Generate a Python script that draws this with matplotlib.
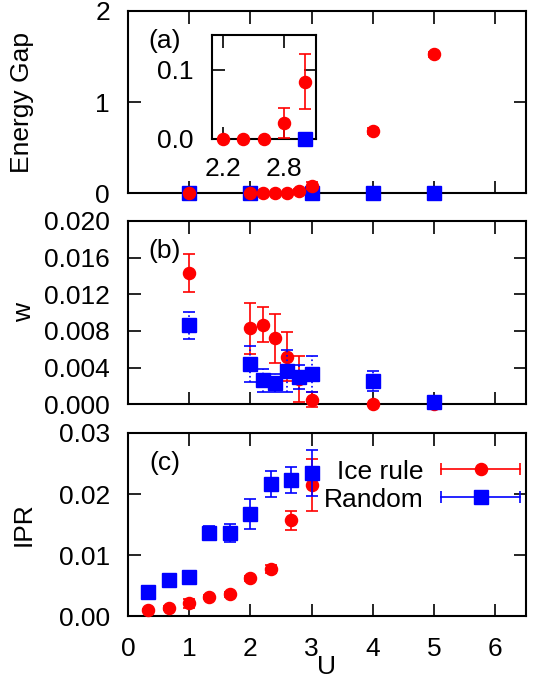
import numpy as np
import matplotlib
matplotlib.use('Agg')
import matplotlib.pyplot as plt
from matplotlib.lines import Line2D
from matplotlib.legend_handler import HandlerBase
from matplotlib.container import ErrorbarContainer

plt.rcParams['font.family'] = ['Liberation Sans', 'DejaVu Sans']

''' panel (a): energy gap '''
gap_u_ice = [1.0, 2.0, 2.2, 2.4, 2.6, 2.8, 3.0, 4.0, 5.0]
gap_ice = [0.0, 0.0, 0.0, 0.0, 0.0, 0.023, 0.083, 0.683, 1.525]
gap_ice_err = [0.0, 0.0, 0.0, 0.0, 0.0, 0.022, 0.040, 0.03, 0.03]
gap_u_rand = [1.0, 2.0, 3.0, 4.0, 5.0]
gap_rand = [0.0, 0.0, 0.0, 0.0, 0.0]

''' panel (b): w '''
w_u = [1.0, 2.0, 2.2, 2.4, 2.6, 2.8, 3.0, 4.0, 5.0]
w_ice = [0.0143, 0.0083, 0.0087, 0.0072, 0.0052, 0.0028, 0.0005, 0.0, 0.0]
w_ice_err = [0.0021, 0.0028, 0.0019, 0.0027, 0.0027, 0.0025, 0.0008, 0.0, 0.0]
w_rand = [0.0086, 0.0044, 0.0026, 0.0023, 0.0036, 0.0030, 0.0033, 0.0025, 0.0002]
w_rand_err = [0.0015, 0.0020, 0.0013, 0.0010, 0.0023, 0.0013, 0.0020, 0.0011, 0.0007]

''' panel (c): IPR '''
ipr_u = [0.33, 0.67, 1.0, 1.33, 1.67, 2.0, 2.33, 2.67, 3.0]
ipr_ice = [0.0010, 0.0014, 0.0021, 0.0031, 0.0036, 0.0062, 0.0077, 0.0157, 0.0215]
ipr_ice_err = [0.0002, 0.0003, 0.0007, 0.0003, 0.0004, 0.0004, 0.0007, 0.0016, 0.0043]
ipr_rand = [0.0039, 0.0059, 0.0064, 0.0136, 0.0136, 0.0167, 0.0216, 0.0223, 0.0234]
ipr_rand_err = [0.0003, 0.0003, 0.0003, 0.0012, 0.0015, 0.0025, 0.0021, 0.0022, 0.0038]

inset_ticks_x = [2.2, 2.8]
inset_ticks_y = [0.0, 0.1]

RED = '#ff0000'
BLUE = '#0000ff'
FS = 19


class HandlerHBar(HandlerBase):
    '''gnuplot style key: horizontal bar with end caps and the point in the middle'''
    def create_artists(self, legend, orig_handle, xdescent, ydescent,
                       width, height, fontsize, trans):
        line = orig_handle.lines[0]
        c = line.get_color()
        y = height / 2.0 - ydescent
        x0, x1 = -xdescent, -xdescent + width
        bar = Line2D([x0, x1], [y, y], color=c, lw=1.2)
        caps = Line2D([x0, x1], [y, y], color=c, ls='none', marker='|', ms=8, mew=1.2)
        mk = Line2D([(x0 + x1) / 2.0], [y], color=c, ls='none',
                    marker=line.get_marker(), ms=line.get_markersize())
        for a in (bar, caps, mk):
            a.set_transform(trans)
        return [bar, caps, mk]


def style(ax, xpad=15):
    ax.tick_params(direction='in', top=True, right=True, length=9, width=1.2,
                   labelsize=FS)
    ax.tick_params(axis='y', pad=13)
    ax.tick_params(axis='x', pad=xpad)
    for s in ax.spines.values():
        s.set_linewidth(1.5)


def ice(ax, x, y, e, **kw):
    return ax.errorbar(x, y, yerr=e, fmt='o', color=RED, ms=8.7, capsize=4.5,
                       elinewidth=1.2, capthick=1.2, clip_on=False, label='Ice rule', **kw)


def rand(ax, x, y, e=None, **kw):
    return ax.errorbar(x, y, yerr=e, fmt='s', color=BLUE, ms=9.5, capsize=4.5,
                       elinewidth=1.2, capthick=1.2, clip_on=False, label='Random', **kw)


fig = plt.figure(figsize=(5.36, 6.79), dpi=100)
L, W = 0.2388, 0.7425
axA = fig.add_axes([L, 0.7153, W, 0.2685])
axB = fig.add_axes([L, 0.4046, W, 0.2700])
axC = fig.add_axes([L, 0.0924, W, 0.2700])
axIn = fig.add_axes([0.395, 0.7953, 0.194, 0.1532])

# (a)
rand(axA, gap_u_rand, gap_rand, zorder=3)
ice(axA, gap_u_ice, gap_ice, gap_ice_err, zorder=4)
axA.set_ylim(0, 2)
axA.set_yticks([0, 1, 2])
axA.set_ylabel('Energy Gap', fontsize=FS)
axA.yaxis.set_label_coords(-0.236, 0.5)

# inset of (a): only the points between U=2.2 and U=3
ice(axIn, gap_u_ice[2:7], gap_ice[2:7], gap_ice_err[2:7], zorder=4)
rand(axIn, gap_u_rand[2:3], gap_rand[2:3], zorder=3)
axIn.set_xlim(2.093, 3.106)
axIn.set_ylim(0, 0.1507)
axIn.set_xticks(inset_ticks_x)
axIn.set_yticks(inset_ticks_y)
axIn.set_yticklabels(['0.0', '0.1'])
style(axIn, xpad=13)

# (b)
ice(axB, w_u, w_ice, w_ice_err, zorder=3)
eb = rand(axB, w_u, w_rand, w_rand_err, zorder=4)
eb[2][0].set_linestyle(':')
axB.set_ylim(0, 0.020)
axB.set_yticks([0.0, 0.004, 0.008, 0.012, 0.016, 0.020])
axB.set_yticklabels(['0.000', '0.004', '0.008', '0.012', '0.016', '0.020'])
axB.set_ylabel('w', fontsize=FS)
axB.yaxis.set_label_coords(-0.23, 0.5)

# (c)
h1 = ice(axC, ipr_u, ipr_ice, ipr_ice_err, zorder=3)
h2 = rand(axC, ipr_u, ipr_rand, ipr_rand_err, zorder=4)
axC.set_ylim(0, 0.03)
axC.set_yticks([0.0, 0.01, 0.02, 0.03])
axC.set_yticklabels(['0.00', '0.01', '0.02', '0.03'])
axC.set_ylabel('IPR', fontsize=FS)
axC.yaxis.set_label_coords(-0.232, 0.5)
axC.set_xlabel('U', fontsize=FS)
axC.xaxis.set_label_coords(0.499, -0.212)
axC.legend([h1, h2], ['Ice rule', 'Random'], loc='upper right',
           bbox_to_anchor=(1.044, 0.984), frameon=False, markerfirst=False,
           fontsize=FS, handlelength=2.97, handletextpad=0.66, labelspacing=0.15,
           handler_map={ErrorbarContainer: HandlerHBar()})

for ax, tag in zip([axA, axB, axC], ['(a)', '(b)', '(c)']):
    ax.set_xlim(0, 6.5)
    ax.set_xticks([0, 1, 2, 3, 4, 5, 6])
    style(ax)
    ax.text(0.093, 0.837, tag, transform=ax.transAxes, fontsize=FS,
            ha='center', va='center')
axA.tick_params(labelbottom=False)
axB.tick_params(labelbottom=False)

fig.savefig('out.png', dpi=100)
